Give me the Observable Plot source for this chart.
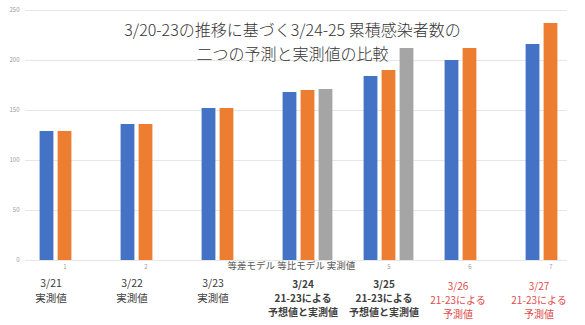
<!DOCTYPE html>
<html>
<head>
<meta charset="utf-8">
<script src="https://cdn.jsdelivr.net/npm/d3@7"></script>
<script src="https://cdn.jsdelivr.net/npm/@observablehq/plot@0.6"></script>
<style>
  html, body { margin: 0; padding: 0; background: #fff; }
  svg { display: block; }
</style>
</head>
<body>
<div id="chart"></div>
<script>
// ---- data ----
const days = [1, 2, 3, 4, 5, 6, 7];
const arithmeticModel = [129, 136, 152, 168, 184, 200, 216]; // 等差モデル
const geometricModel  = [129, 136, 152, 170, 190, 212, 237]; // 等比モデル
const observedDays    = [4, 5];
const observedValues  = [171, 212];                          // 実測値
const seriesNames = ["等差モデル", "等比モデル", "実測値"];
const xTickLabels = [1, 2, 5, 6, 7];
const yTicks = [0, 50, 100, 150, 200, 250];
const titleLines = ["3/20-23の推移に基づく3/24-25 累積感染者数の", "二つの予測と実測値の比較"];
const dayLabels = [
  "3/21\n実測値",
  "3/22\n実測値",
  "3/23\n実測値",
  "3/24\n21-23による\n予想値と実測値",
  "3/25\n21-23による\n予想値と実測値",
  "3/26\n21-23による\n予測値",
  "3/27\n21-23による\n予測値"
];
const labelKind = ["plain", "plain", "plain", "bold", "bold", "red", "red"];

const arith = days.map((d, i) => ({day: d, value: arithmeticModel[i]}));
const geom = days.map((d, i) => ({day: d, value: geometricModel[i]}));
const obs = observedDays.map((d, i) => ({day: d, value: observedValues[i]}));
const labels = days.map((d, i) => ({day: d, text: dayLabels[i], kind: labelKind[i]}));

const W = 585, H = 325;
const JP = "'Noto Sans CJK JP', 'Noto Sans', sans-serif";
const bandW = 81.2;
const inset = (bandW - 14) / 2;

const chart = Plot.plot({
  width: W,
  height: H,
  marginTop: 10,
  marginBottom: 65,
  marginLeft: 25,
  marginRight: 18,
  style: {fontFamily: JP, background: "#fff"},
  x: {type: "band", domain: days, range: [23.4, 23.4 + bandW * 7], padding: 0, axis: null},
  y: {domain: [0, 250], axis: null},
  marks: [
    Plot.ruleY(yTicks, {stroke: "#e6e6e6", strokeWidth: 1}),
    Plot.axisY(yTicks, {tickSize: 0, tickPadding: 6, fontSize: 6, fill: "#999", label: null}),
    Plot.axisX(xTickLabels, {tickSize: 0, tickPadding: 4, fontSize: 6, fill: "#999", label: null}),
    Plot.barY(arith, {x: "day", y: "value", fill: "#4472C4", insetLeft: inset, insetRight: inset, dx: -18}),
    Plot.barY(geom, {x: "day", y: "value", fill: "#ED7D31", insetLeft: inset, insetRight: inset}),
    Plot.barY(obs, {x: "day", y: "value", fill: "#A5A5A5", insetLeft: inset, insetRight: inset, dx: 18}),
    Plot.text([seriesNames.join(" ")], {frameAnchor: "bottom-left", dx: 202, dy: 8, fontSize: 9.5, fill: "#555", textAnchor: "start"}),
    Plot.text(labels.filter(d => d.kind === "plain"), {x: "day", text: "text", frameAnchor: "bottom", lineAnchor: "top", dy: 16, dx: -14, fontSize: 10.5, lineHeight: 1.4, fill: "#404040"}),
    Plot.text(labels.filter(d => d.kind === "bold"), {x: "day", text: "text", frameAnchor: "bottom", lineAnchor: "top", dy: 17, dx: -5, fontSize: 10, lineHeight: 1.42, fill: "#404040", fontWeight: "bold"}),
    Plot.text(labels.filter(d => d.kind === "red"), {x: "day", text: "text", frameAnchor: "bottom", lineAnchor: "top", dy: 20, dx: -12, fontSize: 10, lineHeight: 1.4, fill: "#E04B4B"}),
    Plot.text([titleLines[0]], {frameAnchor: "top", lineAnchor: "middle", dy: 20.5, dx: -4, fontSize: 16, fill: "#333", fontWeight: 300}),
    Plot.text([titleLines[1]], {frameAnchor: "top", lineAnchor: "middle", dy: 43.9, dx: -4, fontSize: 16, fill: "#333", fontWeight: 300})
  ]
});
document.getElementById("chart").appendChild(chart);
</script>
</body>
</html>
